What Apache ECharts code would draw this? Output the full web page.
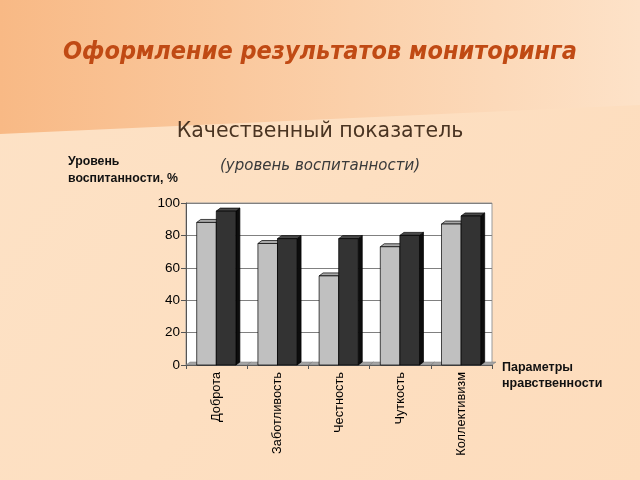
<!DOCTYPE html>
<html><head><meta charset="utf-8">
<script src="https://cdn.jsdelivr.net/npm/echarts@6/dist/echarts.min.js"></script>
<style>html,body{margin:0;padding:0;}#c{width:640px;height:480px;}</style>
</head><body><div id="c"></div>
<script>
const categories = ['Доброта', 'Заботливость', 'Честность', 'Чуткость', 'Коллективизм'];
const seriesLight = [88, 75, 55, 73, 87];
const seriesDark = [95, 78, 78, 80, 92];
const yTicks = [0, 20, 40, 60, 80, 100];

const chart = echarts.init(document.getElementById('c'));
const data = categories.map((c, i) => [i, seriesLight[i], seriesDark[i]]);

function renderItem(params, api) {
  const i = api.value(0);
  const base = api.coord([i, 0]);
  const bw = api.size([1, 0])[0];
  const x0 = base[0] - bw / 2;
  const yb = base[1];
  const w = bw * 0.32, off = bw * 0.175, dx = 4, dy = 3;
  const ln = {stroke: '#000', lineWidth: 0.7};
  function bar(x, v, front, top, side) {
    const y = api.coord([i, v])[1];
    return [
      {type: 'polygon', shape: {points: [[x + w, y], [x + w + dx, y - dy], [x + w + dx, yb - dy], [x + w, yb]]}, style: Object.assign({fill: side}, ln)},
      {type: 'polygon', shape: {points: [[x, y], [x + dx, y - dy], [x + w + dx, y - dy], [x + w, y]]}, style: Object.assign({fill: top}, ln)},
      {type: 'rect', shape: {x: x, y: y, width: w, height: yb - y}, style: Object.assign({fill: front}, ln)}
    ];
  }
  const floor = {type: 'polygon', shape: {points: [[x0, yb], [x0 + dx, yb - dy], [x0 + bw + dx, yb - dy], [x0 + bw, yb]]},
    style: {fill: '#a6a6a6', stroke: '#777', lineWidth: 0.5}};
  const xl = x0 + off;
  return {type: 'group', children: [floor]
    .concat(bar(xl, api.value(1), '#c0c0c0', '#a8a8a8', '#808080'))
    .concat(bar(xl + w, api.value(2), '#333333', '#4a4a4a', '#0d0d0d'))};
}

chart.setOption({
  animation: false,
  graphic: [
    {type: 'rect', z: -10, shape: {x: 0, y: 0, width: 640, height: 480},
     style: {fill: new echarts.graphic.LinearGradient(0, 0, 1, 1, [{offset: 0, color: '#fde2c6'}, {offset: 1, color: '#fddcbc'}])}},
    {type: 'polygon', z: -9, shape: {points: [[0, 0], [640, 0], [640, 105], [0, 134]]},
     style: {fill: new echarts.graphic.LinearGradient(0, 0, 1, 0, [{offset: 0, color: '#f8b985'}, {offset: 0.55, color: '#fbd0aa'}, {offset: 1, color: '#fde2c8'}])}},
    {type: 'text', left: 'center', top: 40, style: {text: 'Оформление результатов мониторинга', font: 'italic bold 25px "DejaVu Sans Condensed", "DejaVu Sans"', fill: '#c04a14'}},
    {type: 'text', left: 'center', top: 121, style: {text: 'Качественный показатель', font: '20.5px "DejaVu Sans"', fill: '#4a3422'}},
    {type: 'text', left: 'center', top: 159, style: {text: '(уровень воспитанности)', font: 'italic 15px "DejaVu Sans"', fill: '#3a3a3a'}},
    {type: 'text', left: 68, top: 153, style: {text: 'Уровень\nвоспитанности, %', font: 'bold 12.3px "Liberation Sans", Arial', fill: '#111', lineHeight: 17}},
    {type: 'text', left: 502, top: 360, style: {text: 'Параметры\nнравственности', font: 'bold 12.5px "Liberation Sans", Arial', fill: '#111', lineHeight: 16}}
  ],
  grid: {left: 186, right: 148, top: 203, bottom: 115, show: true, backgroundColor: '#ffffff', borderColor: '#9a9a9a', borderWidth: 1},
  xAxis: {
    type: 'category', data: categories,
    axisLine: {lineStyle: {color: '#555'}},
    axisTick: {show: true, length: 4, lineStyle: {color: '#555'}},
    axisLabel: {rotate: 90, fontSize: 12.8, color: '#000', fontFamily: '"Liberation Sans", Arial', margin: 7}
  },
  yAxis: {
    type: 'value', min: yTicks[0], max: yTicks[yTicks.length - 1], interval: 20,
    axisLine: {show: true, lineStyle: {color: '#555'}},
    axisTick: {show: true, length: 5, lineStyle: {color: '#555'}},
    axisLabel: {fontSize: 13.5, color: '#000', fontFamily: '"Liberation Sans", Arial', margin: 6},
    splitLine: {lineStyle: {color: '#808080', width: 1}}
  },
  series: [{type: 'custom', renderItem: renderItem, data: data, encode: {x: 0, y: [1, 2]}}]
});
</script></body></html>
